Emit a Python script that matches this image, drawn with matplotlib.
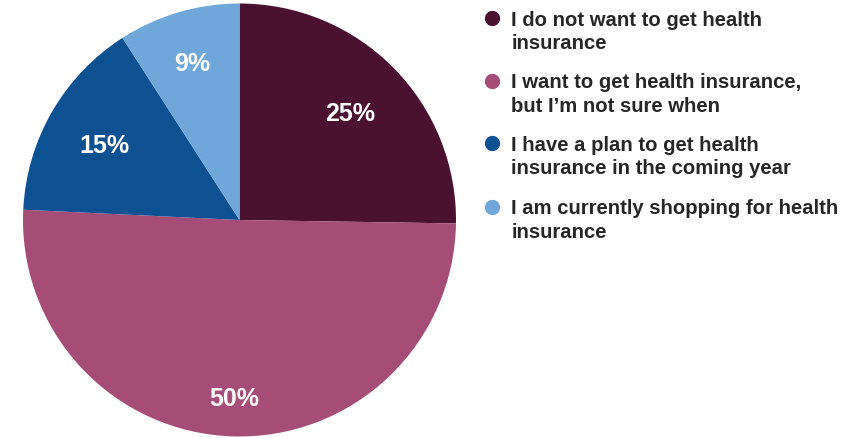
import numpy as np
import matplotlib
matplotlib.use("Agg")
import matplotlib.pyplot as plt
from matplotlib.lines import Line2D

categories = [
    "I do not want to get health\ninsurance",
    "I want to get health insurance,\nbut I\u2019m not sure when",
    "I have a plan to get health\ninsurance in the coming year",
    "I am currently shopping for health\ninsurance",
]
values = [25, 50, 15, 9]
colors = ["#4B1131", "#A54D77", "#0E5193", "#6FA7DB"]
label_dist = [0.72, 0.81, 0.72, 0.77]

W, H = 862, 439
fig = plt.figure(figsize=(W / 100, H / 100), dpi=100)
fig.patch.set_facecolor("white")
plt.rcParams["font.family"] = ["Liberation Sans", "DejaVu Sans"]

cx, cy, r = 239.5, 221.0, 216.5
ax = fig.add_axes([(cx - r) / W, (H - cy - r) / H, 2 * r / W, 2 * r / H])
wedges, _ = ax.pie(values, colors=colors, startangle=90, counterclock=False,
                   radius=1.0, wedgeprops=dict(linewidth=0))
ax.set_xlim(-1, 1)
ax.set_ylim(-1, 1)
ax.set_aspect("equal")
ax.axis("off")

for w, v, d in zip(wedges, values, label_dist):
    ang = np.deg2rad((w.theta1 + w.theta2) / 2)
    ax.text(d * np.cos(ang), d * np.sin(ang), f"{v}%", ha="center",
            va="center_baseline", fontsize=18, fontweight="bold", color="white")

# legend
baselines = [25.5, 88.5, 151, 214.5]
line_gap = 23.5
text_x = 511.5
marker_x = 492.5
for lab, col, b in zip(categories, colors, baselines):
    fig.add_artist(Line2D([marker_x / W], [1 - (b - 7) / H], marker="o",
                          markersize=10, color=col, linestyle="none",
                          transform=fig.transFigure))
    for i, line in enumerate(lab.split("\n")):
        fig.text(text_x / W, 1 - (b + i * line_gap) / H, line, ha="left",
                 va="baseline", fontsize=14.6, fontweight="bold", color="#262626")

fig.savefig("out.png", dpi=100, facecolor="white")
